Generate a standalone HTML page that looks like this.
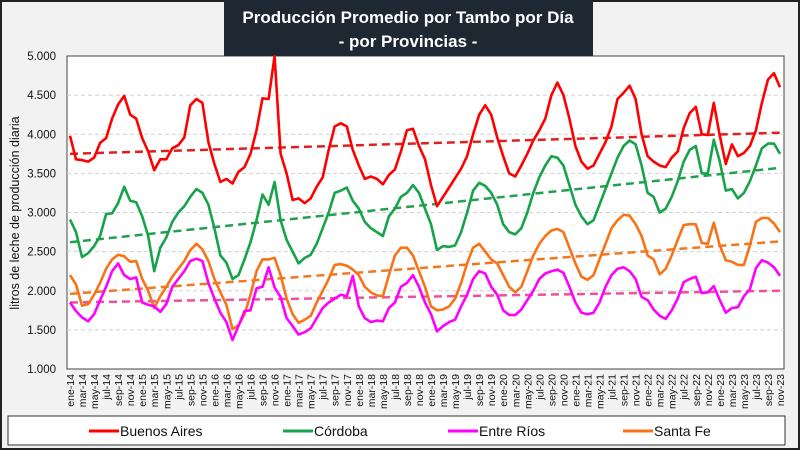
<!DOCTYPE html>
<html><head><meta charset="utf-8">
<style>
html,body{margin:0;padding:0;background:#fff}
#wrap{position:relative;width:800px;height:450px;overflow:hidden;font-family:"Liberation Sans",sans-serif}
</style></head>
<body>
<div id="wrap">
<svg id="chart" width="800" height="450"></svg>
</div>
<script>
const months=['ene','feb','mar','abr','may','jun','jul','ago','sep','oct','nov','dic'];
const yTicks=[1000,1500,2000,2500,3000,3500,4000,4500,5000];
const yTickLabels=['1.000','1.500','2.000','2.500','3.000','3.500','4.000','4.500','5.000'];
const seriesNames=['Buenos Aires','Córdoba','Entre Ríos','Santa Fe'];
const buenosAires=[
3980,3680,3670,3650,3700,3890,3950,4200,4380,4490,4250,4200,
3950,3780,3540,3680,3680,3820,3860,3960,4370,4450,4400,3900,
3620,3390,3430,3370,3520,3580,3750,4050,4460,4450,5000,3750,
3500,3160,3180,3120,3180,3330,3450,3800,4100,4140,4100,3800,
3600,3430,3460,3430,3360,3480,3550,3780,4050,4070,3850,3680,
3350,3080,3200,3320,3440,3560,3720,4000,4250,4370,4250,3960,
3720,3500,3460,3600,3750,3920,4050,4200,4500,4660,4500,4200,
3850,3650,3560,3600,3750,3900,4100,4450,4530,4620,4450,4000,
3720,3650,3600,3580,3700,3780,4080,4270,4350,4000,3990,4400,
3980,3620,3870,3720,3760,3850,4050,4400,4700,4780,4600];
const cordoba=[
2910,2750,2430,2480,2570,2700,2980,2990,3120,3330,3150,3130,
2950,2700,2250,2550,2680,2880,3000,3080,3200,3300,3250,3100,
2800,2450,2360,2150,2200,2400,2620,2900,3230,3100,3390,2900,
2650,2500,2350,2420,2460,2600,2800,3000,3250,3280,3320,3150,
3050,2880,2800,2750,2700,2950,3050,3200,3250,3350,3250,3050,
2850,2520,2570,2560,2580,2750,3000,3280,3380,3340,3250,3100,
2850,2750,2720,2800,3000,3250,3450,3600,3720,3700,3600,3350,
3100,2950,2850,2900,3100,3300,3500,3700,3850,3920,3870,3600,
3250,3200,3000,3050,3200,3400,3650,3800,3850,3500,3500,3930,
3650,3280,3300,3180,3250,3400,3600,3820,3880,3880,3750];
const entreRios=[
1850,1740,1660,1610,1700,1880,2050,2250,2350,2200,2150,2170,
1850,1820,1800,1730,1830,2050,2150,2250,2380,2410,2380,2100,
1900,1720,1600,1370,1550,1740,1750,2030,2050,2300,2040,1920,
1650,1550,1440,1470,1520,1650,1780,1850,1900,1950,1930,2190,
1800,1650,1600,1620,1610,1780,1850,2050,2100,2200,2050,1850,
1700,1480,1550,1600,1630,1800,1950,2150,2250,2220,2050,1950,
1750,1690,1690,1760,1880,2000,2150,2220,2250,2270,2230,2050,
1850,1720,1700,1720,1850,2050,2200,2280,2300,2250,2150,1920,
1880,1760,1680,1640,1750,1900,2110,2150,2180,1970,1980,2060,
1880,1720,1780,1790,1930,2020,2290,2390,2360,2300,2190];
const santaFe=[
2200,2080,1810,1830,1950,2100,2280,2400,2460,2440,2370,2380,
2150,2000,1780,1930,2050,2180,2280,2380,2520,2600,2530,2380,
2150,1980,1820,1510,1560,1700,1950,2250,2400,2400,2420,2200,
1900,1700,1590,1630,1680,1850,2000,2150,2330,2340,2320,2270,
2200,2050,1980,1940,1930,2200,2450,2550,2550,2450,2250,2050,
1800,1750,1760,1800,1900,2100,2350,2550,2600,2500,2400,2350,
2200,2050,1980,2050,2250,2450,2600,2700,2770,2790,2750,2550,
2350,2180,2140,2200,2400,2600,2800,2900,2970,2960,2850,2700,
2450,2400,2210,2280,2450,2650,2840,2850,2850,2610,2600,2870,
2580,2390,2370,2330,2330,2580,2880,2930,2930,2860,2750];
const trendStart=[3750,2620,1850,1960];
const trendEnd=[4020,3570,2000,2630];
const colors=['#ff0000','#16a34a','#ff00ff','#f97316'];
const trendColors=['#e02020','#22a050','#f0509a','#f07820'];
const allSeries=[buenosAires,cordoba,entreRios,santaFe];
const keys=['buenos-aires','cordoba','entre-rios','santa-fe'];

const NS='http://www.w3.org/2000/svg';
const svg=document.getElementById('chart');
function mk(t,a,p){const e=document.createElementNS(NS,t);for(const k in a)e.setAttribute(k,a[k]);(p||svg).appendChild(e);return e;}
const L=67,R=784,T=56,B=369;
const N=119;
function x(i){return 70+i*(780-70)/(N-1);}
function y(v){return B-(v-1000)/(4000)*(B-T);}

let e=mk('rect',{x:1,y:1,width:798,height:448,fill:'#f2f2f2',stroke:'#222','stroke-width':2});

e=mk('rect',{x:L,y:T,width:R-L,height:B-T,fill:'#fff',stroke:'#444','stroke-width':1});

e=mk('rect',{x:224,y:0,width:369,height:56,fill:'#1e2833'});

e=mk('text',{x:408,y:23,'text-anchor':'middle','font-size':17,'font-weight':'bold',fill:'#fff'});
e.textContent='Producción Promedio por Tambo por Día';

e=mk('text',{x:408,y:47,'text-anchor':'middle','font-size':17,'font-weight':'bold',fill:'#fff'});
e.textContent='- por Provincias -';

yTicks.forEach((v,k)=>{
  if(k>0&&k<yTicks.length-1){const g=mk('line',{x1:L,x2:R,y1:y(v),y2:y(v),stroke:'#d0d0d0','stroke-dasharray':'4,3'});
  }
  const t=mk('text',{x:56,y:y(v)+4,'text-anchor':'end','font-size':11.5,fill:'#111'});
  t.textContent=yTickLabels[k];
  
});
e=mk('text',{x:19,y:213,'text-anchor':'middle','font-size':12.5,fill:'#111',transform:'rotate(-90 19 213)'});
e.textContent='litros de leche de producción diaria';

for(let i=0;i<N;i+=2){
  const lab=months[i%12]+'-'+(14+Math.floor(i/12));
  const xx=x(i)+4;
  const t=mk('text',{x:xx,y:374,'text-anchor':'end','font-size':10.5,fill:'#111',transform:'rotate(-90 '+xx+' 374)'});
  t.textContent=lab;
  
}
allSeries.forEach((s,k)=>{
  const l=mk('line',{x1:x(0),y1:y(trendStart[k]),x2:x(N-1),y2:y(trendEnd[k]),stroke:trendColors[k],'stroke-width':2.5,'stroke-dasharray':'8,5'});
  
});
[3,2,1,0].forEach(k=>{
  const s=allSeries[k];
  const d=s.map((v,i)=>(i?'L':'M')+x(i).toFixed(1)+','+y(v).toFixed(1)).join('');
  const p=mk('path',{d:d,fill:'none',stroke:colors[k],'stroke-width':2.6,'stroke-linejoin':'round'});
  
});
e=mk('rect',{x:8,y:416,width:777,height:29,fill:'#fff',stroke:'#333','stroke-width':1});

const lx=[89,283,448,623];
seriesNames.forEach((n,k)=>{
  const g=mk('g',{});
  
  mk('line',{x1:lx[k],x2:lx[k]+30,y1:431,y2:431,stroke:colors[k],'stroke-width':3},g);
  const t=mk('text',{x:lx[k]+31,y:436,'font-size':14,fill:'#111'},g);
  t.textContent=n;
});
</script>
</body></html>
